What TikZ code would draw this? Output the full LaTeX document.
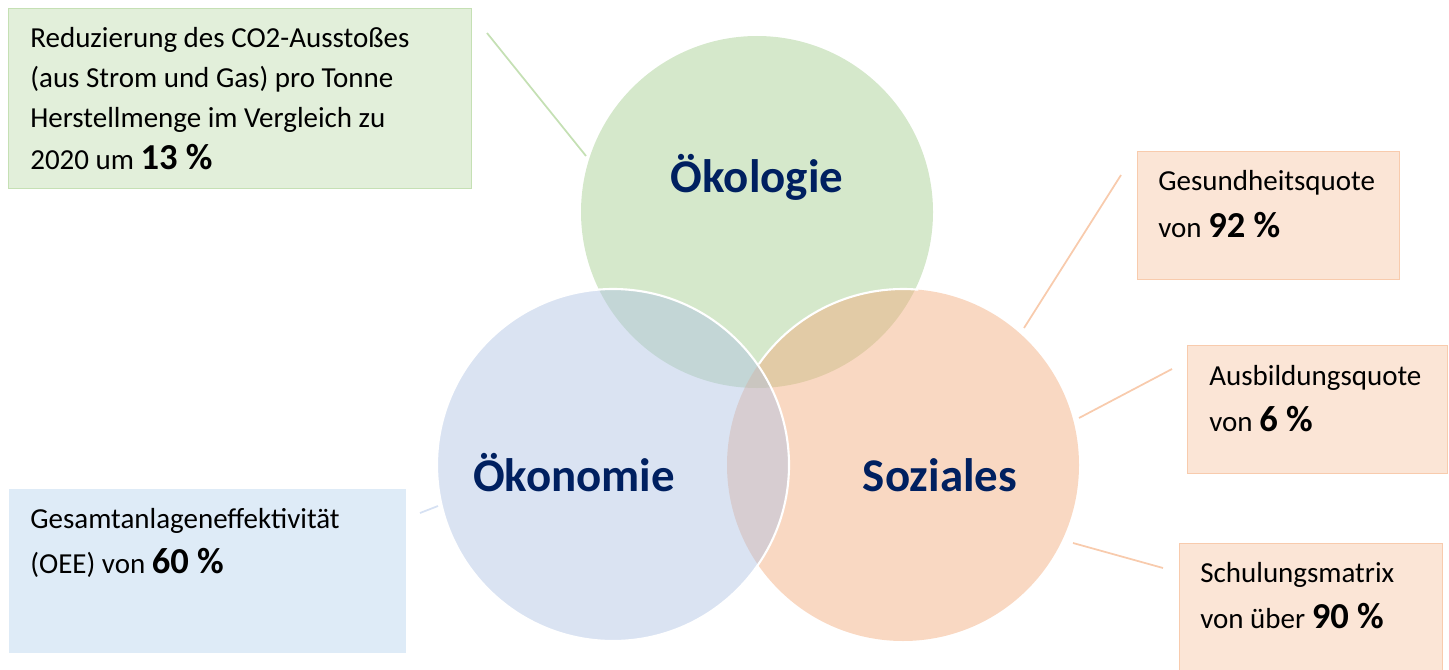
\documentclass[tikz,border=0pt]{standalone}
\usepackage{fontspec}
\setmainfont{Carlito}
\usepackage{xcolor}

\definecolor{oekogreen}{RGB}{162,204,140}
\definecolor{oekoblue}{RGB}{173,193,227}
\definecolor{sozorange}{RGB}{242,169,120}
\definecolor{labelblue}{RGB}{0,32,96}
\definecolor{greenbox}{RGB}{226,239,218}
\definecolor{greenline}{RGB}{197,224,180}
\definecolor{orangebox}{RGB}{251,229,214}
\definecolor{orangeline}{RGB}{248,203,173}
\definecolor{bluebox}{RGB}{222,235,247}
\definecolor{blueline}{RGB}{214,225,243}

\newcommand{\bignum}[1]{{\fontsize{20.8}{24}\selectfont\bfseries #1}}
\newcommand{\firstline}{\rule{0pt}{14pt}}

\begin{document}
\begin{tikzpicture}[x=0.02cm, y=-0.02cm,
    circlelabel/.style={anchor=base, text=labelblue, font=\fontsize{26.7}{32}\selectfont\bfseries},
    infobox/.style={anchor=north west, inner sep=0pt, line width=0.8pt},
    infotext/.style={anchor=north west, inner sep=0pt, align=left, font=\fontsize{16.5}{22.8}\selectfont},
    leader/.style={line width=1pt}]
    \useasboundingbox (0,0) rectangle (1449,669);

    % the three circles
    \fill[oekogreen, fill opacity=0.45] (757,212) circle (176);
    \fill[sozorange, fill opacity=0.45] (903,465) circle (176);
    \draw[white, line width=1.2pt] (903,465) ++(-85:176) arc (-85:-145:176);
    \fill[oekoblue, fill opacity=0.45] (613,465) circle (176);
    \draw[white, line width=1.2pt] (613,465) circle (176);

    \node[circlelabel] (oekologie) at (757,192) {Ökologie};
    \node[circlelabel] (oekonomie) at (574,491) {Ökonomie};
    \node[circlelabel] (soziales) at (940,491) {Soziales};

    % boxes
    \node[infobox, draw=greenline, fill=greenbox, minimum width=9.26cm, minimum height=3.6cm] (co2box) at (8,8) {};
    \node[infobox, draw=orangeline, fill=orangebox, minimum width=5.24cm, minimum height=2.56cm] (gesbox) at (1137,151) {};
    \node[infobox, draw=orangeline, fill=orangebox, minimum width=5.2cm, minimum height=2.56cm] (ausbox) at (1187,345) {};
    \node[infobox, draw=orangeline, fill=orangebox, minimum width=5.26cm, minimum height=2.94cm] (schulbox) at (1179,543) {};
    \node[infobox, fill=bluebox, minimum width=7.94cm, minimum height=3.28cm] (oeebox) at (8,488) {};

    \node[infotext] (co2) at (30,22.4) {\firstline Reduzierung des CO2-Ausstoßes\\(aus Strom und Gas) pro Tonne\\Herstellmenge im Vergleich zu\\[1pt]2020 um \bignum{13 \%}};
    \node[infotext] (ges) at (1158,165.4) {\firstline Gesundheitsquote\\[3.9pt]von \bignum{92 \%}};
    \node[infotext] (aus) at (1209,360.4) {\firstline Ausbildungsquote\\[3.4pt]von \bignum{6 \%}};
    \node[infotext] (schul) at (1200,557.4) {\firstline Schulungsmatrix\\[3.4pt]von über \bignum{90 \%}};
    \node[infotext] (oee) at (30,503.4) {\firstline Gesamtanlageneffektivität\\[2.8pt](OEE) von \bignum{60 \%}};

    % leader lines
    \coordinate (co2-a) at (487,33);
    \coordinate (co2-b) at (586,156);
    \coordinate (ges-a) at (1121,175);
    \coordinate (ges-b) at (1024,328);
    \coordinate (aus-a) at (1172,369);
    \coordinate (aus-b) at (1079,418);
    \coordinate (schul-a) at (1163,568);
    \coordinate (schul-b) at (1073,543);
    \coordinate (oee-a) at (420,513);
    \coordinate (oee-b) at (438,506);
    \draw[leader, greenline] (co2-a) -- (co2-b);
    \draw[leader, orangeline] (ges-a) -- (ges-b);
    \draw[leader, orangeline] (aus-a) -- (aus-b);
    \draw[leader, orangeline] (schul-a) -- (schul-b);
    \draw[leader, blueline] (oee-a) -- (oee-b);
\end{tikzpicture}
\end{document}
